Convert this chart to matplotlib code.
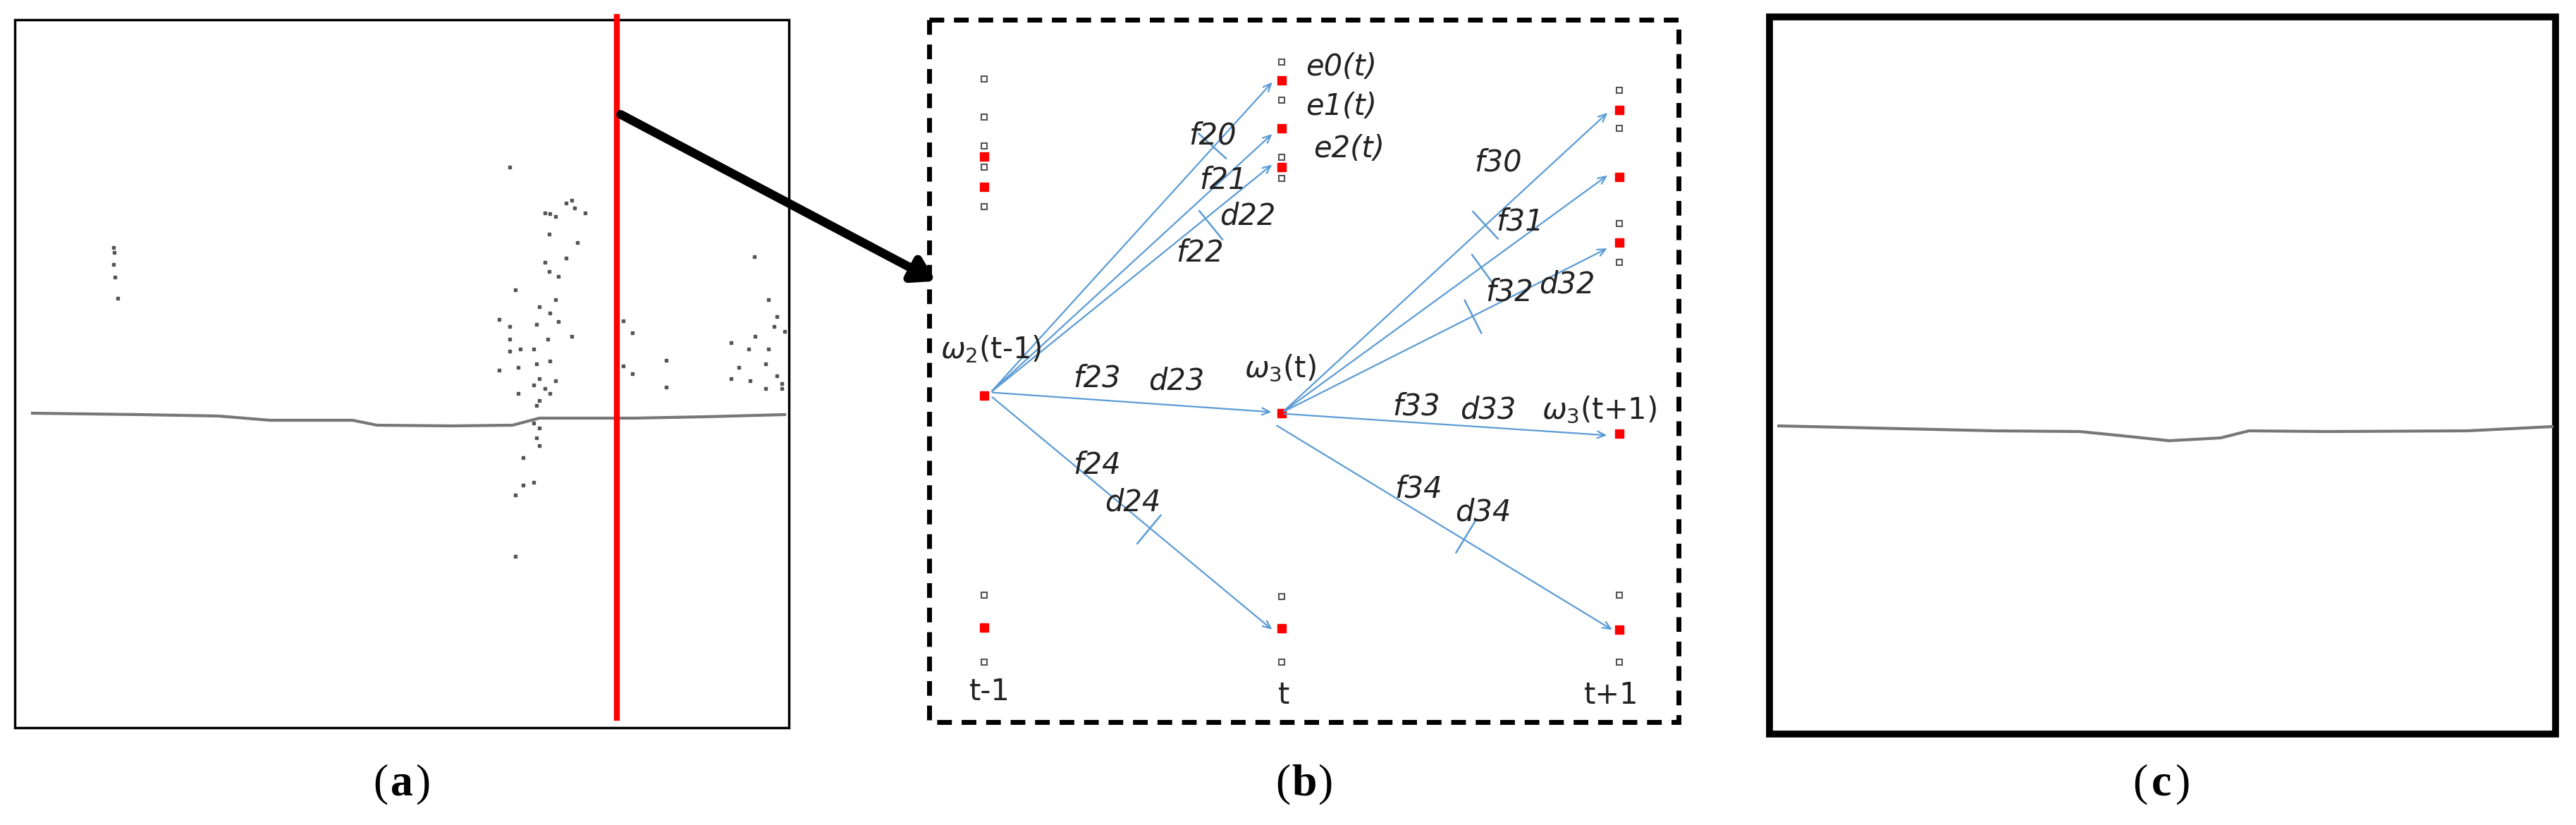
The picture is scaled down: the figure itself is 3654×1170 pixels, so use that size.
import matplotlib.pyplot as plt
import numpy as np

W, H = 3654, 1170

# panel (a): scan points, read in crop units (x/1.307, y/1.425 -> pixels)
a_pts_zoom = [(210,500),(212,510),(210,535),(213,560),(218,603),(945,338),
    (1060,405),(1050,410),(1065,420),(1085,430),(1020,432),(1030,437),(1010,430),
    (1018,473),(1070,490),(1050,522),(1010,530),(1018,548),(1035,558),(955,585),
    (1030,605),(1000,620),(1020,632),(1035,650),(995,655),(925,645),(945,660),
    (1060,680),(1015,685),(945,685),(990,705),(965,705),(945,710),(1020,730),
    (995,735),(960,742),(925,748),(1000,765),(1030,770),(990,778),(1010,785),
    (1020,795),(960,795),(1000,810),(995,820),(990,855),(1000,865),(995,885),
    (1000,900),(970,925),(990,975),(970,980),(955,1000),(955,1125),
    (1155,648),(1173,673),(1155,740),(1173,755),(1235,728),(1235,783),(1398,518),
    (1425,605),(1440,640),(1435,660),(1455,670),(1355,692),(1388,705),(1400,680),
    (1425,705),(1420,735),(1370,742),(1355,765),(1390,770),(1440,760),(1450,775),
    (1420,785),(1450,785)]
a_ground_x = [46, 200, 310, 383, 500, 535, 640, 727, 765, 900, 1000, 1113]
a_ground_y = [586, 588, 590, 596, 596, 603, 604, 603, 593, 593, 591, 588]
c_ground_x = [2523, 2700, 2830, 2950, 3010, 3077, 3150, 3190, 3300, 3500, 3620]
c_ground_y = [604, 608, 611, 612, 618, 625, 621, 611, 612, 611, 605]

# panel (b) nodes, crop units (offset 1300, scale 1.425)
cols = {'t-1': 137, 't': 738, 't+1': 1421}
hollow = {'t-1': [160, 237, 295, 338, 417, 1203, 1338],
          't': [125, 202, 318, 360, 1205, 1338],
          't+1': [182, 260, 452, 530, 1203, 1338]}
red = {'t-1': [316, 377, 800, 1268],
       't': [163, 260, 338, 835, 1270],
       't+1': [222, 357, 490, 876, 1273]}
arrows = [((150,793),(722,163)), ((150,793),(722,268)), ((150,793),(722,330)),
          ((150,793),(722,833)), ((150,800),(722,1275)),
          ((740,833),(1400,225)), ((740,833),(1400,352)), ((740,833),(1400,500)),
          ((740,836),(1400,880)), ((725,858),(1410,1275))]
# tick position and which arrow it crosses
ticks = [(598,295,0), (595,455,2), (470,1070,4), (1150,455,5),
         (1145,545,6), (1125,640,7), (1110,1085,9)]
labels = [('e0(t)',858,135,True), ('e1(t)',858,215,True), ('e2(t)',875,300,True),
          ('f20',598,275,True), ('f21',620,365,True), ('d22',670,437,True),
          ('f22',573,512,True), ('f30',1175,328,True), ('f31',1220,448,True),
          ('f32',1198,590,True), ('d32',1315,575,True),
          (r'$\omega_2$(t-1)',150,705,False), ('f23',365,765,True),
          ('d23',525,770,True), (r'$\omega_3$(t)',735,745,False),
          ('f33',1010,822,True), ('d33',1155,828,True),
          (r'$\omega_3$(t+1)',1380,828,False), ('f24',365,940,True),
          ('d24',437,1015,True), ('f34',1015,988,True), ('d34',1145,1035,True),
          ('t-1',148,1398,False), ('t',742,1405,False), ('t+1',1405,1405,False)]

def bx(x): return 1300 + x / 1.425
def by(y): return y / 1.425

fig = plt.figure(figsize=(W/100, H/100), dpi=100)
ax = fig.add_axes([0, 0, 1, 1])
ax.set_xlim(0, W); ax.set_ylim(H, 0); ax.axis('off')
plt.rcParams['mathtext.fontset'] = 'dejavusans'

# (a)
ax.add_patch(plt.Rectangle((21, 28), 1098, 1004, fill=False, lw=2.5, ec='black'))
ax.plot(a_ground_x, a_ground_y, color='#777777', lw=3)
px = [p[0]/1.307 for p in a_pts_zoom]; py = [p[1]/1.425 for p in a_pts_zoom]
ax.plot(px, py, 's', ms=2.5, color='#555555', ls='none')
ax.plot([875, 875], [24, 1018], color='#ff0000', lw=6)
ax.annotate('', xy=(1330, 400), xytext=(878, 161),
            arrowprops=dict(arrowstyle='-|>,head_width=1.1,head_length=1.8', lw=9, color='black'))

# (b)
ax.add_patch(plt.Rectangle((1318, 28), 1063, 996, fill=False, lw=5, ec='black',
                           ls=(0, (3, 2))))
for (s, e) in arrows:
    ax.annotate('', xy=(bx(e[0]), by(e[1])), xytext=(bx(s[0]), by(s[1])),
                arrowprops=dict(arrowstyle='->,head_width=0.35,head_length=0.8',
                                lw=1.6, color='#5b9bd5'))
for (x, y, k) in ticks:
    (sx, sy), (ex, ey) = arrows[k]
    v = np.array([ex - sx, ey - sy], float); v /= np.hypot(*v)
    n = np.array([-v[1], v[0]]) * 26
    ax.plot([bx(x) - n[0], bx(x) + n[0]], [by(y) - n[1], by(y) + n[1]],
            color='#5b9bd5', lw=1.8)
for k, xc in cols.items():
    ax.plot([bx(xc)]*len(hollow[k]), [by(v) for v in hollow[k]], 's', ms=6,
            mfc='white', mec='#555555', mew=1.5, ls='none')
    ax.plot([bx(xc)]*len(red[k]), [by(v) for v in red[k]], 's', ms=9,
            color='#ff0000', ls='none')
for (t, x, y, it) in labels:
    ax.text(bx(x), by(y), t, fontsize=30, style='italic' if it else 'normal',
            ha='center', va='center', color='#222222')

# (c)
ax.add_patch(plt.Rectangle((2510, 24), 1115, 1017, fill=False, lw=7, ec='black'))
ax.plot(c_ground_x, c_ground_y, color='#777777', lw=3)

for t, x in [('a', 570), ('b', 1850), ('c', 3066)]:
    ax.text(x - 20, 1112, '(', fontsize=46, ha='right', va='center', family='Liberation Serif')
    ax.text(x, 1112, t, fontsize=46, ha='center', va='center', family='Liberation Serif',
            weight='bold')
    ax.text(x + 20, 1112, ')', fontsize=46, ha='left', va='center', family='Liberation Serif')

fig.savefig('out.png', dpi=100)
